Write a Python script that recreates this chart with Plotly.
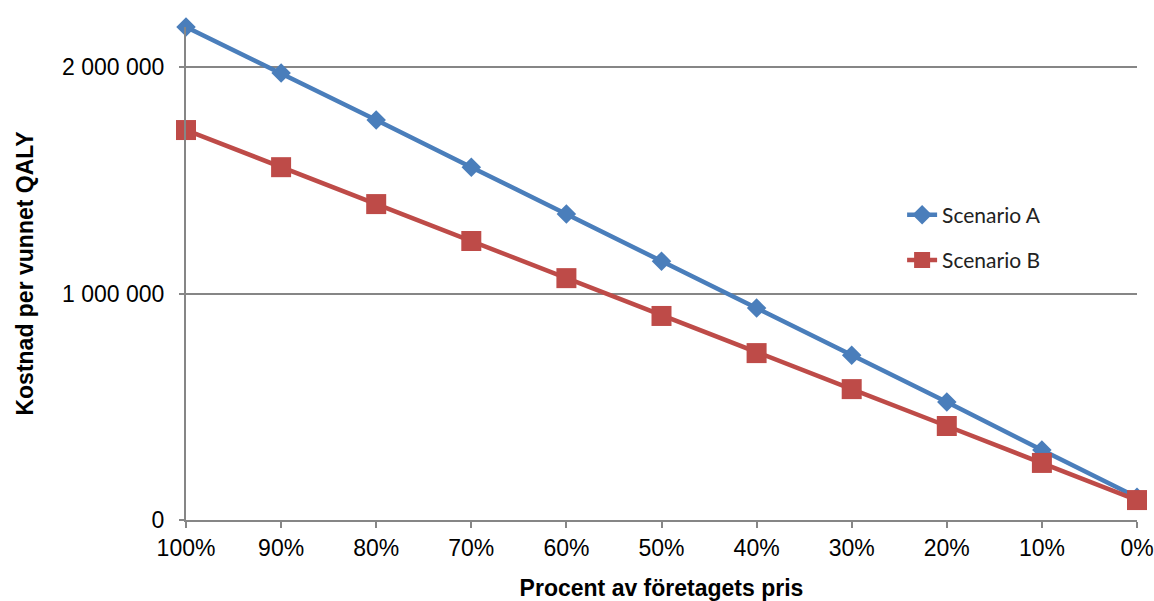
import plotly.graph_objects as go

categories = ["100%", "90%", "80%", "70%", "60%", "50%", "40%", "30%", "20%", "10%", "0%"]
scenario_a = [2177000, 1974000, 1766000, 1558000, 1351000, 1143000, 936000, 728000, 521000, 309000, 100000]
scenario_b = [1722000, 1558000, 1395000, 1232000, 1068000, 901000, 737000, 578000, 415000, 252000, 88000]
y_ticks = [0, 1000000, 2000000]
y_tick_labels = ["0", "1 000 000", "2 000 000"]

fig = go.Figure()
fig.add_trace(go.Scatter(
    x=categories, y=scenario_a, name="Scenario A", mode="lines+markers",
    legendgroup="a",
    line=dict(color="#4A7EBB", width=4.5),
    marker=dict(symbol="diamond", size=15, color="#4A7EBB"),
    cliponaxis=False,
))
fig.add_trace(go.Scatter(
    x=categories, y=scenario_b, name="Scenario B", mode="lines+markers",
    legendgroup="b",
    line=dict(color="#BE4B48", width=4.5),
    marker=dict(symbol="square", size=20, color="#BE4B48"),
    cliponaxis=False,
))

axis_col = "#868686"
fig.update_layout(
    width=1154, height=601,
    margin=dict(l=186, r=17, t=27, b=81),
    paper_bgcolor="white", plot_bgcolor="white",
    font=dict(family="Liberation Sans, Arial, sans-serif", size=23, color="#000000"),
    legend=dict(
        x=0.753, y=0.660, xanchor="left", yanchor="top",
        font=dict(family="Lato, Calibri, sans-serif", size=21, color="#222222"),
        bgcolor="rgba(0,0,0,0)", tracegroupgap=15,
    ),
    showlegend=True,
)
fig.update_xaxes(
    type="category", range=[0, 10], automargin=False,
    showline=True, linecolor=axis_col, linewidth=2,
    ticks="outside", ticklen=6, tickwidth=2, tickcolor=axis_col,
    showgrid=False, zeroline=False,
    tickfont=dict(size=23),
    title=dict(text="<b>Procent av företagets pris</b>", font=dict(size=23), standoff=29),
)
fig.update_yaxes(
    range=[0, 2177000], automargin=False,
    tickvals=y_ticks, ticktext=y_tick_labels,
    showline=True, linecolor=axis_col, linewidth=2,
    ticks="outside", ticklen=5, tickwidth=2, tickcolor=axis_col,
    ticklabelstandoff=10,
    showgrid=True, gridcolor=axis_col, gridwidth=1.5,
    zeroline=False,
    tickfont=dict(size=23),
    title=dict(text="<b>Kostnad per vunnet QALY</b>", font=dict(size=23), standoff=22),
)

fig.write_html(
    "out.html",
    config={"displayModeBar": False},
    post_script="document.body.style.margin='0';document.body.style.overflow='hidden';",
)
